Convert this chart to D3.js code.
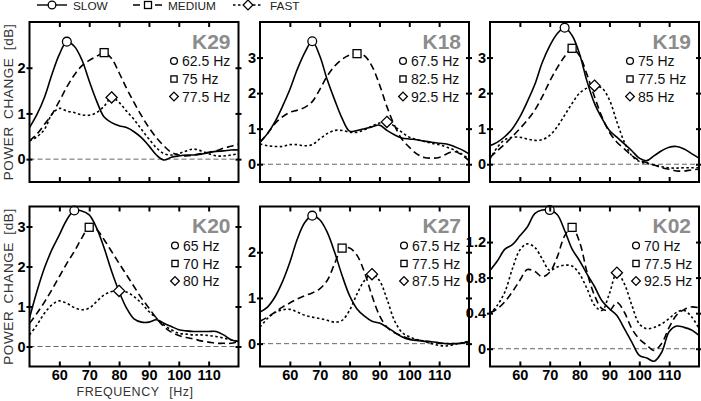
<!DOCTYPE html>
<html><head><meta charset="utf-8">
<script src="https://cdn.jsdelivr.net/npm/d3@7"></script>
<style>body{margin:0;background:#fff}svg{display:block}</style>
</head><body><svg id="c" width="701" height="401"></svg>
<script>
// ---------- DATA ----------
const FREQS = [50,52.5,55,57.5,60,62.5,65,67.5,70,72.5,75,77.5,80,82.5,85,87.5,90,92.5,95,97.5,100,102.5,105,107.5,110,112.5,115,117.5,120];
const X_TICKS = [60,70,80,90,100,110];
const SERIES = ["SLOW","MEDIUM","FAST"];
const PANELS = ["K29","K18","K19","K20","K27","K02"];

const K29_SLOW   = [0.69,0.98,1.35,1.85,2.29,2.57,2.47,2.18,1.71,1.27,0.92,0.80,0.73,0.69,0.60,0.47,0.29,0.09,-0.02,0.04,0.07,0.09,0.09,0.11,0.14,0.17,0.18,0.20,0.20];
const K29_MEDIUM = [0.40,0.55,0.76,0.98,1.27,1.58,1.84,2.04,2.16,2.25,2.33,2.20,1.89,1.55,1.24,0.95,0.69,0.47,0.29,0.15,0.09,0.07,0.09,0.12,0.15,0.18,0.24,0.28,0.33];
const K29_FAST   = [0.40,0.49,0.65,0.98,1.11,1.05,1.02,0.97,0.96,1.02,1.16,1.35,1.24,1.05,0.87,0.65,0.44,0.25,0.12,0.09,0.12,0.18,0.22,0.18,0.12,0.07,0.07,0.09,0.12];

const K18_SLOW   = [0.62,0.86,1.19,1.62,2.10,2.67,3.14,3.46,3.05,2.38,1.81,1.29,0.93,0.95,1.00,1.05,1.10,0.95,0.83,0.74,0.71,0.69,0.65,0.62,0.59,0.57,0.50,0.41,0.29];
const K18_MEDIUM = [0.62,0.86,1.14,1.33,1.46,1.52,1.60,1.76,2.10,2.48,2.76,2.95,3.07,3.11,3.05,2.76,2.24,1.62,1.10,0.71,0.48,0.29,0.19,0.17,0.19,0.29,0.36,0.27,0.10];
const K18_FAST   = [0.57,0.52,0.50,0.50,0.55,0.55,0.52,0.55,0.71,0.86,0.95,0.95,0.90,0.90,0.97,1.07,1.16,1.19,1.07,0.90,0.76,0.69,0.64,0.59,0.55,0.48,0.40,0.29,0.14];

const K19_SLOW   = [0.52,0.62,0.78,1.00,1.33,1.76,2.24,2.86,3.33,3.67,3.84,3.62,3.10,2.33,1.71,1.29,0.95,0.76,0.57,0.38,0.17,0.10,0.24,0.38,0.48,0.50,0.43,0.30,0.17];
const K19_MEDIUM = [0.19,0.38,0.57,0.78,1.00,1.24,1.52,1.90,2.33,2.71,3.03,3.26,3.05,2.52,1.90,1.33,0.90,0.62,0.43,0.24,0.11,0.05,-0.02,-0.10,-0.14,-0.19,-0.19,-0.16,-0.14];
const K19_FAST   = [0.14,0.48,0.69,0.76,0.76,0.71,0.67,0.69,0.81,1.05,1.38,1.71,2.00,2.14,2.21,2.14,1.81,1.19,0.62,0.24,0.08,0.02,-0.02,-0.07,-0.10,-0.11,-0.10,-0.10,-0.10];

const K20_SLOW   = [0.71,1.38,1.96,2.42,2.79,3.17,3.40,3.39,3.29,2.96,2.46,1.88,1.375,0.96,0.69,0.61,0.61,0.67,0.58,0.50,0.42,0.39,0.375,0.375,0.375,0.375,0.29,0.17,0.125];
const K20_MEDIUM = [0.58,0.83,1.11,1.42,1.75,2.08,2.375,2.71,2.98,2.92,2.67,2.375,2.08,1.79,1.50,1.21,0.96,0.71,0.50,0.36,0.275,0.225,0.19,0.14,0.11,0.08,0.08,0.08,0.125];
const K20_FAST   = [0.29,0.54,0.83,1.04,1.14,1.08,0.975,0.92,0.96,1.125,1.29,1.375,1.39,1.36,1.25,1.08,0.875,0.71,0.54,0.42,0.33,0.31,0.29,0.29,0.275,0.25,0.21,0.17,0.125];

const K27_SLOW   = [0.69,0.80,1.02,1.35,1.78,2.29,2.65,2.80,2.71,2.44,2.00,1.49,1.05,0.76,0.60,0.49,0.45,0.36,0.25,0.15,0.09,0.07,0.05,0.04,0.02,0.00,0.00,0.01,0.04];
const K27_MEDIUM = [0.49,0.58,0.69,0.80,0.89,0.98,1.05,1.11,1.20,1.38,1.75,2.09,2.09,1.93,1.56,1.05,0.62,0.36,0.24,0.17,0.11,0.08,0.06,0.04,0.01,0.00,0.00,0.01,0.05];
const K27_FAST   = [0.36,0.55,0.68,0.74,0.75,0.69,0.62,0.58,0.55,0.51,0.47,0.51,0.73,1.09,1.38,1.52,1.38,0.98,0.51,0.25,0.15,0.09,0.05,0.00,-0.04,-0.05,-0.02,0.02,0.05];

const K02_SLOW   = [0.88,0.99,1.12,1.17,1.27,1.37,1.52,1.56,1.56,1.51,1.33,1.12,0.99,0.84,0.70,0.54,0.45,0.375,0.225,0.075,-0.075,-0.105,-0.14,-0.04,0.19,0.255,0.24,0.21,0.15];
const K02_MEDIUM = [0.405,0.45,0.53,0.64,0.77,0.89,0.87,0.81,0.86,1.03,1.27,1.365,1.20,0.86,0.60,0.45,0.43,0.52,0.41,0.225,0.11,0.04,-0.02,0.06,0.24,0.38,0.44,0.47,0.46];
const K02_FAST   = [0.39,0.49,0.64,0.90,1.11,1.18,1.14,1.01,0.88,0.92,0.94,0.93,0.84,0.675,0.49,0.43,0.62,0.855,0.73,0.49,0.28,0.225,0.24,0.28,0.34,0.41,0.43,0.36,0.225];

const K29_PEAKS = [62.5,75,77.5];
const K18_PEAKS = [67.5,82.5,92.5];
const K19_PEAKS = [75,77.5,85];
const K20_PEAKS = [65,70,80];
const K27_PEAKS = [67.5,77.5,87.5];
const K02_PEAKS = [70,77.5,92.5];

const K29_YTICKS = [0,1,2];
const K18_YTICKS = [0,1,2,3];
const K19_YTICKS = [0,1,2,3];
const K20_YTICKS = [0,1,2,3];
const K27_YTICKS = [0,1,2];
const K02_YTICKS = [0,0.4,0.8,1.2];

const K29_YDOMAIN = [-0.5,3];
const K18_YDOMAIN = [-0.5,4];
const K19_YDOMAIN = [-0.5,4];
const K20_YDOMAIN = [-0.5,3.5];
const K27_YDOMAIN = [-0.5,3];
const K02_YDOMAIN = [-0.2,1.6];

const DATA = {
  K29:{series:[K29_SLOW,K29_MEDIUM,K29_FAST],peaks:K29_PEAKS,yt:K29_YTICKS,yd:K29_YDOMAIN},
  K18:{series:[K18_SLOW,K18_MEDIUM,K18_FAST],peaks:K18_PEAKS,yt:K18_YTICKS,yd:K18_YDOMAIN},
  K19:{series:[K19_SLOW,K19_MEDIUM,K19_FAST],peaks:K19_PEAKS,yt:K19_YTICKS,yd:K19_YDOMAIN},
  K20:{series:[K20_SLOW,K20_MEDIUM,K20_FAST],peaks:K20_PEAKS,yt:K20_YTICKS,yd:K20_YDOMAIN},
  K27:{series:[K27_SLOW,K27_MEDIUM,K27_FAST],peaks:K27_PEAKS,yt:K27_YTICKS,yd:K27_YDOMAIN},
  K02:{series:[K02_SLOW,K02_MEDIUM,K02_FAST],peaks:K02_PEAKS,yt:K02_YTICKS,yd:K02_YDOMAIN}
};

// ---------- LAYOUT / STYLE ----------
const COLS = [[29.5,238.5],[260,469],[490,699]];
const ROWS = [[22,182],[206.5,366.5]];
const LEG_OFF = {K29:64.5,K18:66,K19:69,K20:63.5,K27:65,K02:63};
const DASH = [null,"7,4","2.5,2.5"];
const FONT = "Liberation Sans, Arial, sans-serif";
const TICK_FONT = "Liberation Sans Narrow, Liberation Sans, Arial, sans-serif";

const svg = d3.select("#c");

function marker(g, kind, x, y, s) {
  if (kind === 0) {
    g.append("circle").attr("cx",x).attr("cy",y).attr("r",s*0.55)
      .attr("fill","#fff").attr("stroke","#000").attr("stroke-width",1.3);
  } else if (kind === 1) {
    g.append("rect").attr("x",x-s/2).attr("y",y-s/2).attr("width",s).attr("height",s)
      .attr("fill","#fff").attr("stroke","#000").attr("stroke-width",1.3);
  } else {
    const d = s*0.7;
    g.append("path").attr("d",`M${x},${y-d}L${x+d},${y}L${x},${y+d}L${x-d},${y}Z`)
      .attr("fill","#fff").attr("stroke","#000").attr("stroke-width",1.3);
  }
}

PANELS.forEach((name, i) => {
  const col = COLS[i % 3], row = ROWS[Math.floor(i / 3)];
  const P = DATA[name];
  const x = d3.scaleLinear().domain([50,120]).range(col);
  const y = d3.scaleLinear().domain(P.yd).range([row[1], row[0]]);
  const g = svg.append("g");
  const clipId = "clip" + name;
  g.append("clipPath").attr("id", clipId).append("rect")
    .attr("x", col[0]).attr("y", row[0]).attr("width", col[1]-col[0]).attr("height", row[1]-row[0]);

  // zero line
  g.append("line").attr("x1",col[0]).attr("x2",col[1]).attr("y1",y(0)).attr("y2",y(0))
    .attr("stroke","#555").attr("stroke-width",0.9).attr("stroke-dasharray","5,3");

  // curves
  const line = d3.line().x((d,k)=>x(FREQS[k])).y(d=>y(d)).curve(d3.curveCatmullRom.alpha(0.5));
  const cg = g.append("g").attr("clip-path", `url(#${clipId})`);
  [2,1,0].forEach(s => {
    cg.append("path").attr("d", line(P.series[s])).attr("fill","none")
      .attr("stroke","#000").attr("stroke-width",1.6)
      .attr("stroke-dasharray", DASH[s]);
  });
  // peak markers
  P.peaks.forEach((f, s) => {
    const k = FREQS.indexOf(f);
    marker(g, s, x(f), y(P.series[s][k]), 8);
  });

  // frame
  g.append("rect").attr("x",col[0]).attr("y",row[0]).attr("width",col[1]-col[0]).attr("height",row[1]-row[0])
    .attr("fill","none").attr("stroke","#000").attr("stroke-width",2);

  // axes
  const fmt = name === "K02" ? (d => d === 0 ? "0" : d3.format(".1f")(d)) : d3.format("d");
  const left = g.append("g").attr("transform",`translate(${col[0]},0)`)
    .call(d3.axisLeft(y).tickValues(P.yt).tickSize(3).tickPadding(1).tickFormat(fmt));
  left.selectAll(".tick line").attr("x1",3);
  left.selectAll(".tick text").style("text-anchor","end");
  const right = g.append("g").attr("transform",`translate(${col[1]},0)`)
    .call(d3.axisRight(y).tickValues(P.yt).tickSize(3).tickFormat(""));
  right.selectAll(".tick line").attr("x1",-3);
  g.append("g").attr("transform",`translate(0,${row[0]})`)
    .call(d3.axisTop(x).tickValues(X_TICKS).tickSize(-5).tickFormat(""));
  const bottom = g.append("g").attr("transform",`translate(0,${row[1]})`)
    .call(d3.axisBottom(x).tickValues(X_TICKS).tickSize(-5).tickPadding(3.5)
      .tickFormat(i >= 3 ? d3.format("d") : ""));
  bottom.selectAll(".tick text").style("text-anchor","middle");
  g.selectAll(".domain").remove();
  g.selectAll(".tick line").attr("stroke","#000").attr("stroke-width",2);
  g.selectAll(".tick text")
    .style("font-family",TICK_FONT).style("font-weight","700")
    .style("font-size","14.5px").style("fill","#000");

  // panel label + legend
  g.append("text").attr("x",col[1]-8).attr("y",row[0]+26.5).attr("text-anchor","end")
    .attr("font-family",FONT).attr("font-weight","bold").attr("font-size",21)
    .attr("fill","#8c8c8c").text(name);
  const mx = col[1] - LEG_OFF[name];
  [39,57,74.5].forEach((dy, s) => {
    marker(g, s, mx, row[0]+dy, 6.2);
    g.append("text").attr("x",mx+8).attr("y",row[0]+dy+5)
      .attr("font-family",FONT).attr("font-size",14).attr("fill","#111")
      .text(`${P.peaks[s]} Hz`);
  });
});

// y-axis titles
ROWS.forEach(row => {
  svg.append("text").attr("transform",`translate(12.5,${(row[0]+row[1])/2}) rotate(-90)`)
    .attr("text-anchor","middle").attr("font-family",FONT).attr("font-size",13.5)
    .attr("fill","#333").attr("letter-spacing",0.6).attr("word-spacing",3)
    .text("POWER CHANGE [dB]");
});
// x-axis title
svg.append("text").attr("x",135).attr("y",396).attr("text-anchor","middle")
  .attr("font-family",FONT).attr("font-size",12.5).attr("fill","#333")
  .attr("letter-spacing",0.5).attr("word-spacing",6)
  .text("FREQUENCY [Hz]");

// top legend
const LEG_X = [37,133,233];
const LEG_TX = [73,168,270];
SERIES.forEach((s, k) => {
  svg.append("line").attr("x1",LEG_X[k]).attr("x2",LEG_X[k]+30).attr("y1",5).attr("y2",5)
    .attr("stroke","#000").attr("stroke-width",1.4).attr("stroke-dasharray",DASH[k]);
  marker(svg, k, LEG_X[k]+15, 5, 7);
  svg.append("text").attr("x",LEG_TX[k]).attr("y",10).attr("font-family",FONT)
    .attr("font-size",11.8).attr("fill","#222").text(s);
});
</script></body></html>
